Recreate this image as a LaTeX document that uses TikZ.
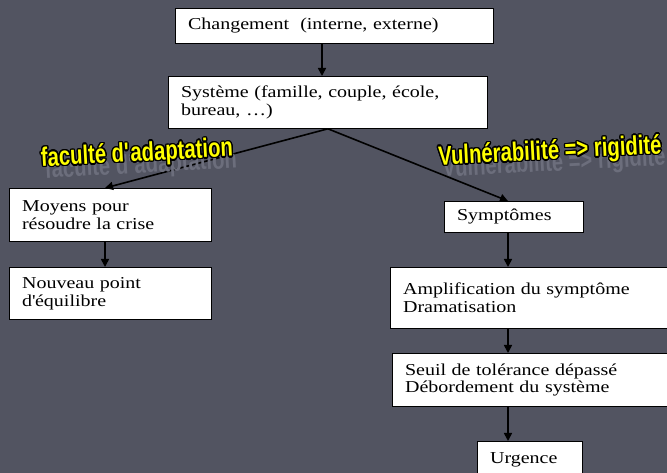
\documentclass[tikz,border=0pt]{standalone}
\usepackage{fontspec}
\setmainfont{Liberation Serif}[FakeStretch=1.2]
\newfontfamily\etiqfont{Liberation Sans}[FakeStretch=0.76]
\usepackage{contour}
\contourlength{1pt}
\usetikzlibrary{arrows.meta}
\definecolor{fond}{RGB}{82,84,97}
\definecolor{ombre}{RGB}{108,110,124}
\definecolor{jaune}{RGB}{255,255,0}

\tikzset{
	bloc/.style 2 args={draw=black, line width=0.6pt, fill=white, anchor=north west, align=left,
		inner xsep=9.5pt, inner ysep=0pt, text width=#1, minimum height=#2,
		font=\fontsize{12.5}{13.3}\selectfont},
	fleche/.style={line width=1.2pt, -{Triangle[length=6pt,width=6pt]}},
	etiq/.style={font=\etiqfont\bfseries\fontsize{20}{20}\selectfont, rotate=3, inner sep=0pt}
}

\begin{document}
\begin{tikzpicture}[x=0.75pt,y=-0.75pt]
	\fill[fond] (0,0) rectangle (667,473);
	\useasboundingbox (0,0) rectangle (667,473);
	% boites
	\node[bloc={219.5pt}{26.25pt}] (chg) at (175,8) {Changement~ (interne, externe)};
	\node[bloc={220.25pt}{39pt}] (sys) at (168,76) {Système (famille, couple, école,\\ bureau, …)};
	\node[bloc={132.5pt}{39.75pt}] (moy) at (9,188) {Moyens pour\\ résoudre la crise};
	\node[bloc={132.5pt}{39pt}] (nou) at (9,267) {Nouveau point\\ d\textquotesingle équilibre};
	\node[bloc={85.25pt}{23.25pt}] (sym) at (444,201) {Symptômes};
	\node[bloc={192.5pt}{45.75pt}] (amp) at (390,267) {Amplification du symptôme\\ Dramatisation};
	\node[bloc={191pt}{39.75pt}] (seu) at (392,353) {Seuil de tolérance dépassé\\ Débordement du système};
	\node[bloc={59.75pt}{27pt}] (urg) at (477,441) {Urgence};
	% fleches
	\coordinate (axeh) at (322,0);
	\coordinate (axeg) at (105,0);
	\coordinate (axed) at (508,0);
	\draw[fleche] (chg.south -| axeh) -- (sys.north -| axeh);
	\draw[fleche] (sys.south) -- (moy.north -| axeg);
	\draw[fleche] (sys.south) -- (sym.north -| axed);
	\draw[fleche] (moy.south -| axeg) -- (nou.north -| axeg);
	\foreach \a/\b in {sym/amp,amp/seu,seu/urg}{
		\draw[fleche] (\a.south -| axed) -- (\b.north -| axed);
	}
	% etiquettes
	\node[etiq, text=ombre] (facombre) at (141,166) {faculté d\textquotesingle adaptation};
	\node[etiq, text=jaune] (fac) at (137,155) {\contour{black}{faculté d\textquotesingle adaptation}};
	\node[etiq, text=ombre] (vulombre) at (554,164) {Vulnérabilité => rigidité};
	\node[etiq, text=jaune] (vul) at (550,153) {\contour{black}{Vulnérabilité => rigidité}};
\end{tikzpicture}
\end{document}
